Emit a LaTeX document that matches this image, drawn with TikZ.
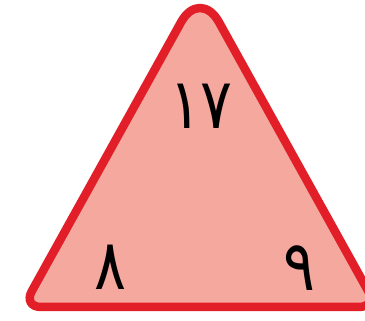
\documentclass[tikz,border=0pt]{standalone}
\usepackage{fontspec}
\newfontfamily\arabicfont[Script=Arabic]{DejaVu Sans}
\usetikzlibrary{calc}
\definecolor{tri}{RGB}{226,30,40}
\definecolor{trifill}{RGB}{245,168,158}
\begin{document}
\begin{tikzpicture}[x=1pt,y=-1pt,
  num/.style={font=\arabicfont\fontsize{70}{74}\selectfont, inner sep=0pt, text=black, xscale=0.85}]
\useasboundingbox (0,0) rectangle (365,321);
\coordinate (T) at (200,-12);
\coordinate (L) at (23,307);
\coordinate (R) at (377,307);
\filldraw[fill=trifill, draw=tri, line width=8.5pt, line join=round]
  ($(L)!18pt!(T)$) -- ($(T)!39pt!(L)$)
  .. controls ($(T)!17.5pt!(L)$) and ($(T)!17.5pt!(R)$) .. ($(T)!39pt!(R)$)
  -- ($(R)!18pt!(T)$)
  .. controls ($(R)!8pt!(T)$) and ($(R)!8pt!(L)$) .. ($(R)!18pt!(L)$)
  -- ($(L)!18pt!(R)$)
  .. controls ($(L)!8pt!(R)$) and ($(L)!8pt!(T)$) .. ($(L)!18pt!(T)$)
  -- cycle;
\node[num] (n17) at (201,106) {١٧};
\node[num] (n8) at (110,267) {٨};
\node[num] (n9) at (299,268) {٩};
\end{tikzpicture}
\end{document}
